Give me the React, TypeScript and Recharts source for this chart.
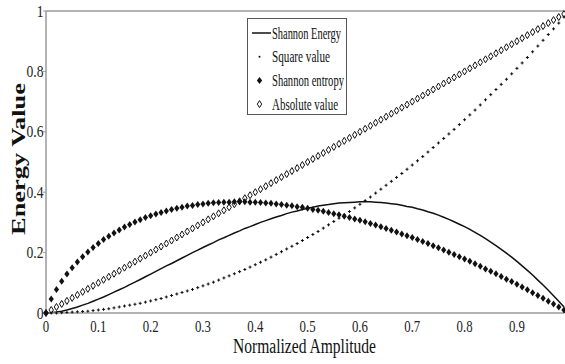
import React from 'react'
import { LineChart, Line, XAxis, YAxis, Legend } from 'recharts'

// normalized amplitude, 0 .. 0.99 in steps of 0.01
const amplitude = [
  0, 0.01, 0.02, 0.03, 0.04, 0.05, 0.06, 0.07, 0.08, 0.09,
  0.1, 0.11, 0.12, 0.13, 0.14, 0.15, 0.16, 0.17, 0.18, 0.19,
  0.2, 0.21, 0.22, 0.23, 0.24, 0.25, 0.26, 0.27, 0.28, 0.29,
  0.3, 0.31, 0.32, 0.33, 0.34, 0.35, 0.36, 0.37, 0.38, 0.39,
  0.4, 0.41, 0.42, 0.43, 0.44, 0.45, 0.46, 0.47, 0.48, 0.49,
  0.5, 0.51, 0.52, 0.53, 0.54, 0.55, 0.56, 0.57, 0.58, 0.59,
  0.6, 0.61, 0.62, 0.63, 0.64, 0.65, 0.66, 0.67, 0.68, 0.69,
  0.7, 0.71, 0.72, 0.73, 0.74, 0.75, 0.76, 0.77, 0.78, 0.79,
  0.8, 0.81, 0.82, 0.83, 0.84, 0.85, 0.86, 0.87, 0.88, 0.89,
  0.9, 0.91, 0.92, 0.93, 0.94, 0.95, 0.96, 0.97, 0.98, 0.99,
]

const shannonEnergy = [
  0, 0.001, 0.003, 0.006, 0.01, 0.015, 0.02, 0.026, 0.032, 0.039,
  0.046, 0.053, 0.061, 0.069, 0.077, 0.085, 0.094, 0.102, 0.111, 0.12,
  0.129, 0.138, 0.147, 0.156, 0.164, 0.173, 0.182, 0.191, 0.2, 0.208,
  0.217, 0.225, 0.233, 0.242, 0.249, 0.257, 0.265, 0.272, 0.28, 0.286,
  0.293, 0.3, 0.306, 0.312, 0.318, 0.323, 0.329, 0.334, 0.338, 0.343,
  0.347, 0.35, 0.354, 0.357, 0.359, 0.362, 0.364, 0.365, 0.366, 0.367,
  0.368, 0.368, 0.368, 0.367, 0.366, 0.364, 0.362, 0.36, 0.357, 0.353,
  0.35, 0.345, 0.341, 0.335, 0.33, 0.324, 0.317, 0.31, 0.302, 0.294,
  0.286, 0.277, 0.267, 0.257, 0.246, 0.235, 0.223, 0.211, 0.198, 0.185,
  0.171, 0.156, 0.141, 0.126, 0.109, 0.093, 0.075, 0.057, 0.039, 0.02,
]

const squareValue = [
  0, 0, 0, 0.001, 0.002, 0.003, 0.004, 0.005, 0.006, 0.008,
  0.01, 0.012, 0.014, 0.017, 0.02, 0.023, 0.026, 0.029, 0.032, 0.036,
  0.04, 0.044, 0.048, 0.053, 0.058, 0.063, 0.068, 0.073, 0.078, 0.084,
  0.09, 0.096, 0.102, 0.109, 0.116, 0.123, 0.13, 0.137, 0.144, 0.152,
  0.16, 0.168, 0.176, 0.185, 0.194, 0.203, 0.212, 0.221, 0.23, 0.24,
  0.25, 0.26, 0.27, 0.281, 0.292, 0.303, 0.314, 0.325, 0.336, 0.348,
  0.36, 0.372, 0.384, 0.397, 0.41, 0.423, 0.436, 0.449, 0.462, 0.476,
  0.49, 0.504, 0.518, 0.533, 0.548, 0.563, 0.578, 0.593, 0.608, 0.624,
  0.64, 0.656, 0.672, 0.689, 0.706, 0.723, 0.74, 0.757, 0.774, 0.792,
  0.81, 0.828, 0.846, 0.865, 0.884, 0.903, 0.922, 0.941, 0.96, 0.98,
]

const shannonEntropy = [
  0, 0.046, 0.078, 0.105, 0.129, 0.15, 0.169, 0.186, 0.202, 0.217,
  0.23, 0.243, 0.254, 0.265, 0.275, 0.285, 0.293, 0.301, 0.309, 0.316,
  0.322, 0.328, 0.333, 0.338, 0.343, 0.347, 0.35, 0.354, 0.356, 0.359,
  0.361, 0.363, 0.365, 0.366, 0.367, 0.367, 0.368, 0.368, 0.368, 0.367,
  0.367, 0.366, 0.364, 0.363, 0.361, 0.359, 0.357, 0.355, 0.352, 0.35,
  0.347, 0.343, 0.34, 0.337, 0.333, 0.329, 0.325, 0.32, 0.316, 0.311,
  0.307, 0.302, 0.296, 0.291, 0.286, 0.28, 0.274, 0.268, 0.262, 0.256,
  0.25, 0.243, 0.237, 0.23, 0.223, 0.216, 0.209, 0.201, 0.194, 0.186,
  0.179, 0.171, 0.163, 0.155, 0.146, 0.138, 0.13, 0.121, 0.112, 0.104,
  0.095, 0.086, 0.077, 0.067, 0.058, 0.049, 0.039, 0.03, 0.02, 0.01,
]

const absoluteValue = [
  0, 0.01, 0.02, 0.03, 0.04, 0.05, 0.06, 0.07, 0.08, 0.09,
  0.1, 0.11, 0.12, 0.13, 0.14, 0.15, 0.16, 0.17, 0.18, 0.19,
  0.2, 0.21, 0.22, 0.23, 0.24, 0.25, 0.26, 0.27, 0.28, 0.29,
  0.3, 0.31, 0.32, 0.33, 0.34, 0.35, 0.36, 0.37, 0.38, 0.39,
  0.4, 0.41, 0.42, 0.43, 0.44, 0.45, 0.46, 0.47, 0.48, 0.49,
  0.5, 0.51, 0.52, 0.53, 0.54, 0.55, 0.56, 0.57, 0.58, 0.59,
  0.6, 0.61, 0.62, 0.63, 0.64, 0.65, 0.66, 0.67, 0.68, 0.69,
  0.7, 0.71, 0.72, 0.73, 0.74, 0.75, 0.76, 0.77, 0.78, 0.79,
  0.8, 0.81, 0.82, 0.83, 0.84, 0.85, 0.86, 0.87, 0.88, 0.89,
  0.9, 0.91, 0.92, 0.93, 0.94, 0.95, 0.96, 0.97, 0.98, 0.99,
]

const xTicks = [0, 0.1, 0.2, 0.3, 0.4, 0.5, 0.6, 0.7, 0.8, 0.9]
const xInnerTicks = [0.1, 0.2, 0.3, 0.4, 0.5, 0.6, 0.7, 0.8, 0.9]
const yTicks = [0, 0.2, 0.4, 0.6, 0.8, 1]
const yInnerTicks = [0.2, 0.4, 0.6, 0.8]

const data = amplitude.map((x, i) => ({
  x,
  energy: shannonEnergy[i],
  square: squareValue[i],
  entropy: shannonEntropy[i],
  absolute: absoluteValue[i],
}))

const SERIF = '"Liberation Serif", "Times New Roman", serif'
const AXIS = '#9a9a9a'
const INK = '#111'

// markers
const SquareDot = ({ cx, cy }: any) => (
  <path d={`M${cx - 1.5},${cy}h3M${cx},${cy - 1.5}v3`} stroke={INK} strokeWidth={1} fill="none" />
)
const FilledDiamond = ({ cx, cy }: any) => (
  <path d={`M${cx},${cy - 3.5}L${cx + 2.6},${cy}L${cx},${cy + 3.5}L${cx - 2.6},${cy}Z`} fill={INK} stroke="none" />
)
const OpenDiamond = ({ cx, cy }: any) => (
  <path d={`M${cx},${cy - 3.5}L${cx + 2.2},${cy}L${cx},${cy + 3.5}L${cx - 2.2},${cy}Z`} fill="none" stroke={INK} strokeWidth={1} />
)

const XTick = ({ x, y, payload }: any) => (
  <g transform={`translate(${x},${y})`}>
    <text transform="scale(0.8,1)" textAnchor="middle" y={19.5} fontFamily={SERIF} fontSize={16} fill="#222">
      {payload.value}
    </text>
  </g>
)

const YTick = ({ x, y, payload }: any) => (
  <g transform={`translate(${x + 0.5},${y})`}>
    <text transform="scale(0.85,1)" textAnchor="end" y={5.5} fontFamily={SERIF} fontSize={16} fill="#222">
      {payload.value}
    </text>
  </g>
)

const XLabel = () => (
  <text x={304.5} y={353} textAnchor="middle" fontFamily={SERIF} fontSize={20} fill={INK}
    textLength={143} lengthAdjust="spacingAndGlyphs">
    Normalized Amplitude
  </text>
)

const YLabel = () => (
  <text x={25} y={159} transform="rotate(-90 25 159)" textAnchor="middle" fontFamily={SERIF}
    fontWeight="bold" fontSize={18} fill={INK} textLength={152} lengthAdjust="spacingAndGlyphs">
    Energy Value
  </text>
)

const legendRows = [
  { name: 'Shannon Energy', kind: 'line', len: 69 },
  { name: 'Square value', kind: 'square', len: 58 },
  { name: 'Shannon entropy', kind: 'filled', len: 72 },
  { name: 'Absolute value', kind: 'open', len: 66 },
]

const LegendBox = () => (
  <svg width={100} height={97} style={{ display: 'block', overflow: 'visible' }}>
    <rect x={0.5} y={0.5} width={99} height={96} fill="#fff" stroke="#555" strokeWidth={1} />
    {legendRows.map((r, i) => {
      const base = 20.5 + i * 23.7
      const cy = base - 5.5
      return (
        <g key={r.name}>
          {r.kind === 'line' && <line x1={5} x2={24} y1={cy} y2={cy} stroke={INK} strokeWidth={1.5} />}
          {r.kind === 'square' && <circle cx={12.5} cy={cy} r={1} fill={INK} />}
          {r.kind === 'filled' && <FilledDiamond cx={12.5} cy={cy} />}
          {r.kind === 'open' && <OpenDiamond cx={12.5} cy={cy} />}
          <text x={25} y={base} fontFamily={SERIF} fontSize={17} fill={INK}
            textLength={r.len} lengthAdjust="spacingAndGlyphs">
            {r.name}
          </text>
        </g>
      )
    })}
  </svg>
)

export default function App() {
  return (
    <div style={{ position: 'absolute', left: 0, top: 0, width: 565, height: 364, background: '#fff' }}>
      <LineChart width={565} height={364} data={data} margin={{ top: 11, right: 1, bottom: 0, left: 0 }}>
        <XAxis dataKey="x" type="number" domain={[0, 0.99]} ticks={xTicks} height={51}
          tickSize={0} tickMargin={0} tickLine={false} axisLine={{ stroke: AXIS, strokeWidth: 1.5 }}
          tick={XTick} label={{ content: XLabel }} />
        <XAxis xAxisId="bottomTicks" dataKey="x" type="number" domain={[0, 0.99]} ticks={xInnerTicks}
          orientation="bottom" mirror tickSize={10} tick={false} axisLine={false} tickLine={{ stroke: AXIS }} />
        <XAxis xAxisId="top" dataKey="x" type="number" domain={[0, 0.99]} ticks={xInnerTicks}
          orientation="top" mirror tickSize={8} tick={false} axisLine={{ stroke: AXIS, strokeWidth: 1.5 }}
          tickLine={{ stroke: AXIS }} />
        <YAxis type="number" domain={[0, 1]} ticks={yTicks} width={46} tickSize={3} tickMargin={0}
          tickLine={{ stroke: AXIS }} axisLine={{ stroke: AXIS, strokeWidth: 1.5 }}
          tick={YTick} label={{ content: YLabel }} />
        <YAxis yAxisId="right" type="number" domain={[0, 1]} ticks={yInnerTicks} orientation="right"
          mirror tickSize={4} tick={false} axisLine={false} tickLine={{ stroke: AXIS }} />
        <Legend layout="vertical" align="center" verticalAlign="middle"
          wrapperStyle={{ left: 247, top: 18, width: 100, height: 97 }} content={LegendBox} />
        <Line dataKey="energy" name="Shannon Energy" type="linear" stroke={INK} strokeWidth={1.5}
          dot={false} activeDot={false} isAnimationActive={false} />
        <Line dataKey="square" name="Square value" stroke="none" dot={SquareDot}
          activeDot={false} isAnimationActive={false} />
        <Line dataKey="entropy" name="Shannon entropy" stroke="none" dot={FilledDiamond}
          activeDot={false} isAnimationActive={false} />
        <Line dataKey="absolute" name="Absolute value" stroke="none" dot={OpenDiamond}
          activeDot={false} isAnimationActive={false} />
      </LineChart>
    </div>
  )
}
